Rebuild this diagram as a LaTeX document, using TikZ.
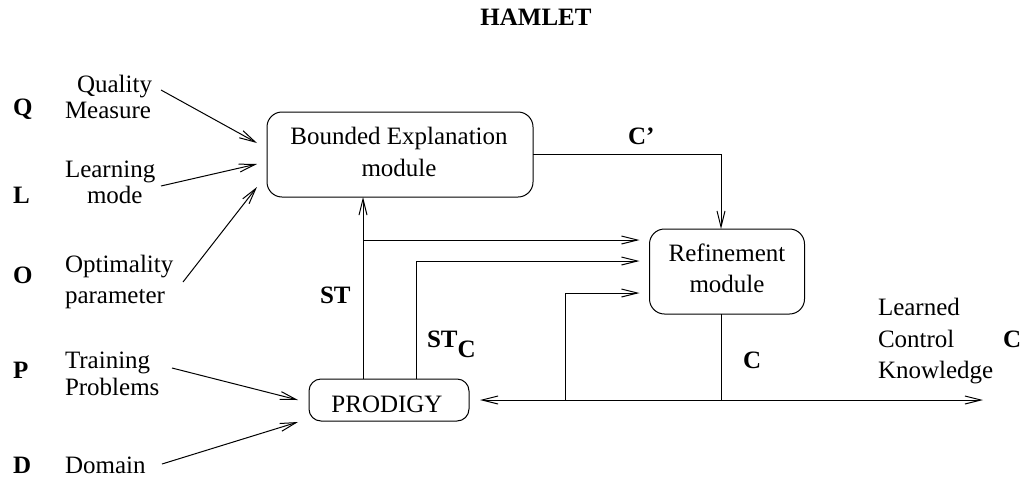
\documentclass[tikz,border=0pt]{standalone}
\usepackage{fontspec}
\setmainfont{Liberation Serif}
\usetikzlibrary{arrows.meta}
\begin{document}
\begin{tikzpicture}[x=1pt,y=-1pt,
  every node/.style={inner sep=0pt,outer sep=0pt,font=\fontsize{25pt}{32pt}\selectfont},
  box/.style={draw,line width=1pt,rounded corners=15pt},
  txt/.style={anchor=base},
  lft/.style={anchor=base west},
  bld/.style={anchor=base west,font=\fontsize{25pt}{32pt}\selectfont\bfseries},
  ln/.style={line width=1pt},
  arr/.style={line width=1pt,-{Straight Barb[length=16pt,width=8pt]}}]
\useasboundingbox (0,0) rectangle (1031,477);

% title
\node[txt,font=\fontsize{25pt}{32pt}\selectfont\bfseries] (title) at (536,25) {HAMLET};

% boxes
\node[box,minimum width=266pt,minimum height=85pt] (bem) at (400,154.5) {};
\node[txt] (bemt1) at (399,144) {Bounded Explanation};
\node[txt] (bemt2) at (399,176) {module};
\node[box,minimum width=155pt,minimum height=85pt] (ref) at (727,271.5) {};
\node[txt] (reft1) at (727,261) {Refinement};
\node[txt] (reft2) at (727,292) {module};
\node[box,rounded corners=12pt,minimum width=160pt,minimum height=42pt] (prod) at (389,400) {};
\node[txt] (prodt) at (387,412) {PRODIGY};

% left letters
\node[bld] (lq) at (13,115) {Q};
\node[bld] (ll) at (13,203) {L};
\node[bld] (lo) at (13,283) {O};
\node[bld] (lp) at (13,378) {P};
\node[bld] (ld) at (13,473) {D};

% left texts
\node[lft] (tq1) at (77,92) {Quality};
\node[lft] (tq2) at (65,118) {Measure};
\node[lft] (tl1) at (65,177) {Learning};
\node[lft] (tl2) at (87,203) {mode};
\node[lft] (to1) at (65,272) {Optimality};
\node[lft] (to2) at (65,303) {parameter};
\node[lft] (tp1) at (65,368) {Training};
\node[lft] (tp2) at (65,395) {Problems};
\node[lft] (td) at (65,473) {Domain};

% right texts
\node[lft] (k1) at (878,315) {Learned};
\node[lft] (k2) at (878,347) {Control};
\node[lft] (k3) at (878,378) {Knowledge};
\node[bld] (kc) at (1003,347) {C};

% connector labels
\node[bld] (lcp) at (628,144) {C’};
\node[bld] (lc) at (743,368) {C};
\node[bld] (lst) at (320,303) {ST};
\node[bld] (lstc) at (427,347) {ST\lower10pt\hbox{C}};

% input arrows
\coordinate (qs) at (161,90);
\coordinate (ls) at (161,186);
\coordinate (os) at (183,282);
\coordinate (ps) at (172,368);
\coordinate (ds) at (162,464);
\draw[arr] (qs) -- ([xshift=-10pt,yshift=11.5pt]bem.west);
\draw[arr] (ls) -- ([xshift=-10pt,yshift=-9.5pt]bem.west);
\draw[arr] (os) -- ([xshift=-10pt,yshift=-32.5pt]bem.west);
\draw[arr] (ps) -- ([xshift=-11pt]prod.west);
\draw[arr] (ds) -- ([xshift=-11pt,yshift=-22pt]prod.west);

% internal connectors
\coordinate (r1) at ([xshift=-10pt,yshift=31.5pt]ref.west);
\coordinate (r2) at ([xshift=-10pt,yshift=10.5pt]ref.west);
\coordinate (r3) at ([xshift=-10pt,yshift=-21.5pt]ref.west);
\coordinate (st0) at ([xshift=-26pt]prod.north);
\coordinate (stc0) at ([xshift=27pt]prod.north);
\draw[arr] (st0) -- (st0 |- bem.south);
\draw[arr] (st0 |- r1) -- (r1);
\draw[arr] (stc0) |- (r2);
\coordinate (j1) at (565,400);
\draw[arr] (j1) |- (r3);
\coordinate (rs) at ([xshift=-6pt]ref.south);
\coordinate (j2) at (rs |- prod.east);
\draw[ln] (rs) -- (j2);
\coordinate (kend) at (983,400);
\draw[arr] (j2) -- (kend);
\draw[arr] (j2) -- ([xshift=11pt]prod.east);
\draw[arr] (bem.east) -| ([xshift=-6pt]ref.north);
\end{tikzpicture}
\end{document}
